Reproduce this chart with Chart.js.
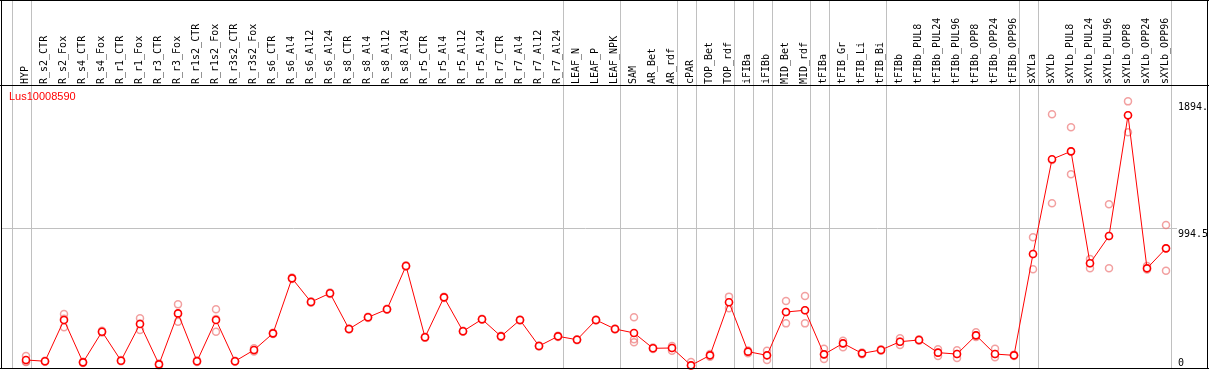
<!DOCTYPE html>
<html><head><meta charset="utf-8">
<script src="https://cdn.jsdelivr.net/npm/chart.js@4.4.0/dist/chart.umd.min.js"></script>
<style>html,body{margin:0;padding:0;background:#fff;overflow:hidden}canvas{display:block}</style>
</head><body>
<canvas id="c" width="1209" height="370"></canvas>
<script>
const title = 'Lus10008590';
const categories = ['HYP','R_s2_CTR','R_s2_Fox','R_s4_CTR','R_s4_Fox','R_r1_CTR','R_r1_Fox','R_r3_CTR','R_r3_Fox','R_r1s2_CTR','R_r1s2_Fox','R_r3s2_CTR','R_r3s2_Fox','R_s6_CTR','R_s6_Al4','R_s6_Al12','R_s6_Al24','R_s8_CTR','R_s8_Al4','R_s8_Al12','R_s8_Al24','R_r5_CTR','R_r5_Al4','R_r5_Al12','R_r5_Al24','R_r7_CTR','R_r7_Al4','R_r7_Al12','R_r7_Al24','LEAF_N','LEAF_P','LEAF_NPK','SAM','AR_Bet','AR_rdf','cPAR','TOP_Bet','TOP_rdf','iFIBa','iFIBb','MID_Bet','MID_rdf','tFIBa','tFIB_Gr','tFIB_Li','tFIB_Bi','tFIBb','tFIBb_PUL8','tFIBb_PUL24','tFIBb_PUL96','tFIBb_OPP8','tFIBb_OPP24','tFIBb_OPP96','sXYLa','sXYLb','sXYLb_PUL8','sXYLb_PUL24','sXYLb_PUL96','sXYLb_OPP8','sXYLb_OPP24','sXYLb_OPP96'];
const means = [57,48,341,40,258,52,313,26,388,48,341,48,128,246,637,469,531,277,360,417,725,218,502,261,346,225,341,156,225,201,341,277,249,140,142,19,90,467,116,90,398,410,97,175,104,128,187,199,109,99,232,99,90,810,1483,1539,744,938,1795,708,850];
const repHigh = [85,52,384,45,265,56,353,32,452,55,417,52,140,250,642,474,536,281,364,421,730,222,506,265,350,229,345,160,229,205,345,281,360,145,156,43,100,507,125,123,476,511,137,194,110,133,211,205,133,126,254,137,95,928,1802,1710,774,1163,1894,724,1016];
const repLow = [45,45,289,35,252,48,270,20,329,42,258,44,118,242,632,464,526,273,356,413,720,214,498,257,342,221,337,152,221,197,337,273,204,135,123,15,80,424,104,57,317,317,64,147,98,123,163,193,85,71,220,76,85,701,1170,1376,708,708,1674,700,691];
const repMid = [42,47,350,40,257,52,316,26,383,47,348,48,126,246,637,469,531,277,360,417,725,218,502,261,346,225,341,156,225,201,341,277,183,140,142,19,90,467,116,90,398,410,97,175,104,128,187,199,109,99,232,99,90,810,1477,1539,744,938,1795,708,850];
const groupEnds = [-1,0,28,31,34,35,37,38,39,41,42,45,52,53,60];
const yTickValues = [0, 994.5, 1894];
const yTickLabels = ['0', '994.5', '1894.'];
const yMax = 1989;

const MONO = '"DejaVu Sans Mono", "Liberation Mono", monospace';
const W = 1209, PLOT_LEFT = 1, PLOT_RIGHT = 1170, PLOT_TOP = 88, PLOT_BOTTOM = 368;
const FIRST_X = 26, STEP = 19;
const xMin = (PLOT_LEFT - FIRST_X) / STEP, xMax = (PLOT_RIGHT - FIRST_X) / STEP;
const GREY = '#c0c0c0';

const toPts = arr => arr.map((v, i) => ({x: i, y: v}));
const repStyle = {type: 'scatter', showLine: false, pointRadius: 3.5, pointBorderWidth: 1.5,
  pointBorderColor: 'rgba(236,120,120,0.7)', pointBackgroundColor: 'rgba(0,0,0,0)', order: 2, clip: false};

const deco = {
  id: 'deco',
  beforeDatasetsDraw(chart) {
    const c = chart.ctx, x = chart.scales.x;
    c.save();
    c.strokeStyle = GREY; c.lineWidth = 1;
    groupEnds.forEach(g => {
      const px = Math.round(x.getPixelForValue(g + 0.24)) + 0.5;
      c.beginPath(); c.moveTo(px, 0); c.lineTo(px, PLOT_BOTTOM); c.stroke();
    });
    c.restore();
  },
  afterDraw(chart) {
    const c = chart.ctx, y = chart.scales.y, area = chart.chartArea;
    c.save();
    c.fillStyle = '#000';
    c.fillRect(0, 0, W, 1);
    c.fillRect(0, 85, W, 1);
    c.fillRect(0, PLOT_BOTTOM, W, 1);
    c.fillRect(1, 0, 1, PLOT_BOTTOM + 1);
    c.fillRect(W - 2, 0, 1, PLOT_BOTTOM + 1);
    c.font = '10px ' + MONO;
    c.textAlign = 'left'; c.textBaseline = 'top';
    yTickValues.forEach((v, i) => {
      let py = y.getPixelForValue(v) + 1;
      py = Math.min(py, area.bottom - 10);
      c.fillText(yTickLabels[i], area.right + 8, py);
    });
    c.fillStyle = '#ff0000';
    c.font = '11px "Liberation Sans", Arial, sans-serif';
    c.textBaseline = 'middle';
    c.fillText(title, 9, 97);
    c.restore();
  }
};

new Chart(document.getElementById('c'), {
  type: 'line',
  data: {
    datasets: [
      {type: 'line', data: toPts(means), borderColor: '#ff0000', borderWidth: 1,
       pointRadius: 3.5, pointBorderWidth: 1.6, pointBorderColor: '#ff0000',
       pointBackgroundColor: '#ffffff', tension: 0, order: 1, clip: false},
      Object.assign({data: toPts(repHigh)}, repStyle),
      Object.assign({data: toPts(repLow)}, repStyle),
      Object.assign({data: toPts(repMid)}, repStyle)
    ]
  },
  options: {
    responsive: false, animation: false, devicePixelRatio: 1,
    layout: {autoPadding: false, padding: {left: PLOT_LEFT, right: 0, top: 0, bottom: 370 - PLOT_BOTTOM}},
    plugins: {legend: {display: false}, tooltip: {enabled: false}, title: {display: false}},
    scales: {
      x: {
        type: 'linear', position: 'top', min: xMin, max: xMax,
        afterBuildTicks: s => { s.ticks = categories.map((_, i) => ({value: i})); },
        afterFit: s => { s.height = PLOT_TOP; s.paddingLeft = 0; s.paddingRight = 0; },
        grid: {display: false, drawTicks: false}, border: {display: false},
        ticks: {autoSkip: false, minRotation: 90, maxRotation: 90, padding: 4, labelOffset: 11, color: '#000',
          font: {family: MONO, size: 10}, callback: v => categories[v] !== undefined ? categories[v] : ''}
      },
      y: {
        type: 'linear', position: 'right', min: 0, max: yMax,
        afterBuildTicks: s => { s.ticks = yTickValues.map(v => ({value: v})); },
        afterFit: s => { s.width = W - PLOT_RIGHT; s.paddingTop = 0; s.paddingBottom = 0; },
        grid: {color: c => (c.tick && c.tick.value === yTickValues[1]) ? GREY : 'rgba(0,0,0,0)',
          tickColor: c => (c.tick && c.tick.value === yTickValues[1]) ? GREY : 'rgba(0,0,0,0)',
          tickLength: 7, drawTicks: true, lineWidth: 1},
        border: {display: false},
        ticks: {display: false}
      }
    }
  },
  plugins: [deco]
});
</script>
</body></html>
